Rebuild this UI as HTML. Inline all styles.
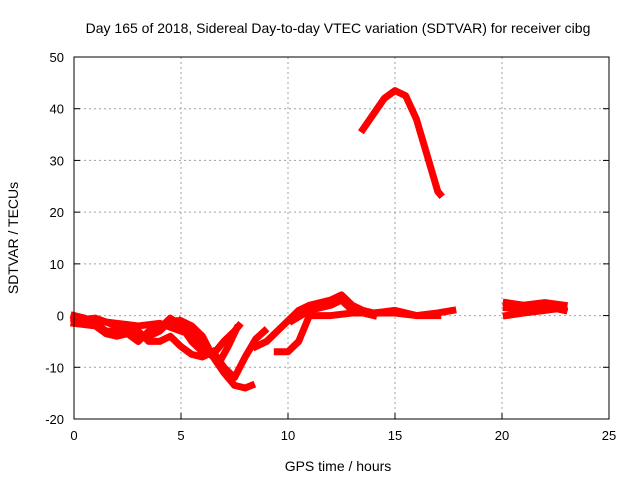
<!DOCTYPE html>
<html><head><meta charset="utf-8"><style>
body{margin:0;background:#fff}
svg{display:block;font-family:"Liberation Sans",sans-serif}
</style></head><body>
<svg id="chart" width="640" height="480">
<text x="338" y="33" font-size="14" text-anchor="middle">Day 165 of 2018, Sidereal Day-to-day VTEC variation (SDTVAR) for receiver cibg</text>
<text x="338" y="471" font-size="14" text-anchor="middle">GPS time / hours</text>
<text transform="translate(18,238) rotate(-90)" font-size="14" text-anchor="middle">SDTVAR / TECUs</text>
<g id="grid"></g><g id="series"></g>
<rect x="74" y="57" width="535" height="362" fill="none" stroke="#000" stroke-width="1"/>
</svg>
<script>
const xTicks=[0,5,10,15,20,25];
const yTicks=[-20,-10,0,10,20,30,40,50];
const arcTrack=[[13.5,36],[14,39],[14.5,42],[15,43.5],[15.5,42.5],[16,38],[16.5,31],[17,24],[17.1,23.5]];
const track1=[[0,0],[0.5,-0.5],[1,-1.5],[1.5,-3],[2,-3],[2.5,-2.5],[3,-4],[3.5,-4],[4,-3],[4.5,-1],[5,-1],[5.5,-3],[6,-6],[6.5,-8],[7,-11],[7.5,-13.5],[8,-14],[8.3,-13.5]];
const track2=[[0,-1],[1,-0.5],[2,-2],[3,-5],[3.5,-3],[4,-2.5],[4.5,-0.5],[5,-2],[5.5,-5],[6,-7],[6.5,-7.5],[7,-5],[7.5,-3],[7.7,-2]];
const track3=[[5,-1],[5.5,-2],[6,-4],[6.5,-8],[6.8,-9],[7.2,-6],[7.6,-2.5]];
const track4=[[6.5,-7],[7,-10],[7.5,-12],[8,-8],[8.5,-4.5],[8.9,-3]];
const track5=[[8.5,-6],[9,-5],[9.5,-3],[10,-1],[10.5,1],[11,2],[12,3],[12.5,4],[13,2],[13.5,1],[14,0.5],[15,0.5],[16,0],[17,0.5],[17.7,1]];
const track6=[[9.5,-7],[10,-7],[10.5,-5],[11,0],[11.5,0],[12,0],[13,0.5],[14,0.5],[15,1],[16,0],[17,0]];
const track7=[[10.2,-1],[11,1],[12,2],[12.5,3],[13,1],[14,0]];
const track8=[[20.2,2.5],[21,2],[22,2.5],[22.9,2]];
const track9=[[20.2,0],[21,0.5],[22,1],[22.9,1.5]];
const track10=[[0,-1.5],[1,-2],[1.5,-3.5],[2,-4],[3,-3],[3.5,-5],[4,-5],[4.5,-4],[5,-6],[5.5,-7.5],[6,-8],[6.5,-7]];
const track11=[[20.2,1.5],[21,1.2],[22,1.8],[22.9,1]];
const track12=[[0,-0.5],[1,-1],[2,-1.5],[3,-2],[4,-1.5],[5,-3]];
const tracks=[arcTrack,track1,track2,track3,track4,track5,track6,track7,track8,track9,track10,track11,track12];
const X0=74,X1=609,Y0=419,Y1=57;
const sx=v=>X0+(v-0)/25*(X1-X0);
const sy=v=>Y0-(v+20)/70*(Y0-Y1);
const NS="http://www.w3.org/2000/svg";
const grid=document.getElementById('grid'),ser=document.getElementById('series');
function mk(tag,attrs,parent){const e=document.createElementNS(NS,tag);for(const k in attrs)e.setAttribute(k,attrs[k]);parent.appendChild(e);return e;}
xTicks.forEach(t=>{const x=sx(t);
 if(t>0&&t<25){const g=mk('line',{x1:x,x2:x,y1:Y1,y2:Y0,stroke:'#a0a0a0','stroke-dasharray':'2,3'},grid);
 
 }
 const tk=mk('line',{x1:x,x2:x,y1:Y0,y2:Y0-6,stroke:'#000'},grid);
 
 
 const tx=mk('text',{x:x,y:Y0+21,'font-size':13,'text-anchor':'middle'},grid);tx.textContent=t;
 
 });
yTicks.forEach(t=>{const y=sy(t);
 if(t>-20&&t<50){const g=mk('line',{x1:X0,x2:X1,y1:y,y2:y,stroke:'#a0a0a0','stroke-dasharray':'2,3'},grid);
 
 }
 const tk=mk('line',{x1:X0,x2:X0+6,y1:y,y2:y,stroke:'#000'},grid);
 
 
 const tk2=mk('line',{x1:X1,x2:X1-6,y1:y,y2:y,stroke:'#000'},grid);
 
 
 const tx=mk('text',{x:X0-10,y:y+5,'font-size':13,'text-anchor':'end'},grid);tx.textContent=t;
 
 });
tracks.forEach(tr=>{
 const p=mk('polyline',{points:tr.map(d=>sx(d[0])+','+sy(d[1])).join(' '),fill:'none',stroke:'#ff0000','stroke-width':7,'stroke-linejoin':'round','stroke-linecap':'square'},ser);
 
 
});
</script>
</body></html>
